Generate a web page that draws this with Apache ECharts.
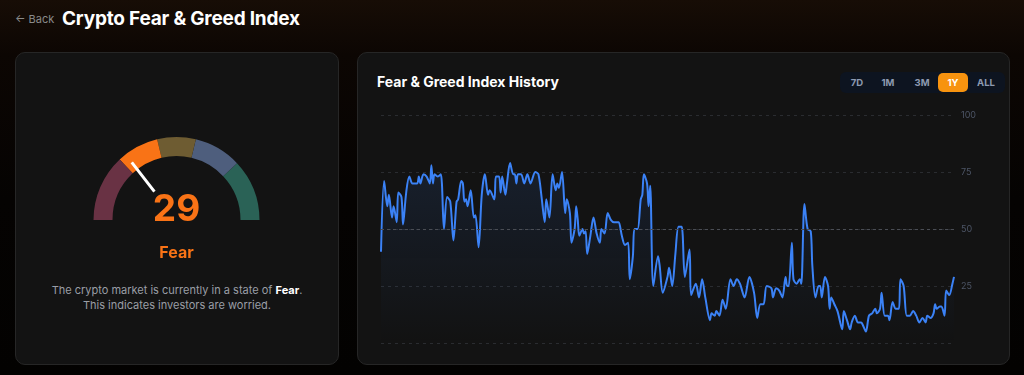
<!DOCTYPE html>
<html>
<head>
<meta charset="utf-8">
<script src="https://cdn.jsdelivr.net/npm/echarts@6/dist/echarts.min.js"></script>
<style>
  html,body{margin:0;padding:0;width:1024px;height:375px;overflow:hidden;}
  body{background:linear-gradient(180deg,#170d06 0px,#0c0603 55px,#050302 200px,#030201 375px);font-family:Inter,"Noto Sans",sans-serif;position:relative;}
  .back{position:absolute;left:15px;top:12px;font-size:11px;color:#8a8a8a;line-height:14px;}
  .h1{position:absolute;left:62px;top:7px;font-size:19px;font-weight:700;color:#fff;line-height:24px;letter-spacing:-0.2px;}
  .card{position:absolute;top:52px;height:313px;background:#131313;border:1px solid #262626;border-radius:10px;box-sizing:border-box;}
  .desc{position:absolute;left:15px;width:324px;top:283px;text-align:center;font-size:11px;line-height:15px;color:#9a9ea6;}
  .desc b{color:#fff;font-weight:700;}
  .ctitle{position:absolute;left:377px;top:73px;font-size:14px;font-weight:700;color:#fff;line-height:18px;}
  .btns{position:absolute;left:840px;top:72px;width:165px;height:21px;background:#0d1420;border-radius:6px;}
  .btn{position:absolute;top:0;height:21px;line-height:21px;font-size:9.5px;font-weight:700;color:#8e9ab0;text-align:center;}
  .btn.on{background:#f7930f;color:#fff;border-radius:5px;top:1px;height:19px;line-height:19px;}
  #chart{position:absolute;left:0;top:0;width:1024px;height:375px;}
</style>
</head>
<body>
<div class="back">← Back</div>
<div class="h1">Crypto Fear &amp; Greed Index</div>
<div class="card" style="left:15px;width:324px;"></div>
<div class="card" style="left:357px;width:653px;"></div>
<div class="desc">The crypto market is currently in a state of <b>Fear</b>.<br>This indicates investors are worried.</div>
<div class="ctitle">Fear &amp; Greed Index History</div>
<div class="btns">
  <div class="btn" style="left:7px;width:20px;">7D</div>
  <div class="btn" style="left:38px;width:20px;">1M</div>
  <div class="btn" style="left:71px;width:22px;">3M</div>
  <div class="btn on" style="left:98px;width:30px;">1Y</div>
  <div class="btn" style="left:134px;width:24px;">ALL</div>
</div>
<div id="chart"></div>
<script>
// Current index
const currentValue = 29;
const currentLabel = 'Fear';
// Gauge bands (upper bound as fraction of 100)
const bandStops = [0.26, 0.425, 0.575, 0.76, 1];
const bandColors = ['#693244', '#f97316', '#6e5c32', '#4e5e7d', '#2a6256'];
// History (1Y): day offset and index value
const days = [0,2,4,5,7,8,10,11,13,14,16,18,20,23,24,25,27,29,31,32,33,34,36,38,40,42,44,46,48,49,51,52,53,54,55,57,59,60,62,64,66,68,69,72,73,75,76,77,79,80,82,84,85,86,87,89,91,93,95,98,100,102,104,105,107,109,111,112,113,115,117,118,120,121,123,124,125,126,128,129,130,131,133,135,137,139,140,142,144,146,148,150,151,153,155,157,158,160,161,163,165,166,167,169,170,171,173,176,177,179,182,183,185,187,189,191,193,196,197,200,202,204,206,209,210,212,213,215,217,219,222,224,226,228,231,234,237,239,241,243,245,248,249,251,253,255,257,258,259,261,262,264,266,267,269,271,273,274,276,278,279,280,282,284,285,286,288,290,293,294,296,298,299,301,303,305,306,308,310,312,314,315,317,318,320,322,323,325,327,329,330,332,334,336,338,340,342,344,346,347,349,351,352,353,355,356,358,359,361,363,364];
const values = [40,71,60,65,55,60,53,66,64,52,66,73,70,70,73,70,74,73,70,78,70,74,73,74,50,64,62,45,62,63,71,70,62,63,60,67,55,56,42,65,74,65,67,63,73,73,66,73,65,70,79,74,74,70,74,74,70,74,70,75,74,64,53,63,55,74,67,70,68,75,57,63,57,44,50,60,54,47,50,48,49,39,47,55,48,44,50,48,57,54,53,53,53,47,43,44,28,38,50,50,63,65,74,70,60,69,25,38,34,22,29,33,25,39,51,51,29,41,21,26,20,28,20,10,13,12,14,12,19,15,28,25,28,26,20,29,22,11,17,17,25,24,20,24,23,20,29,25,25,44,28,26,28,26,61,50,49,34,20,25,25,20,29,25,15,20,17,14,6,14,10,6,9,12,9,9,8,5,12,13,15,13,15,22,12,12,10,18,15,15,28,25,12,12,14,12,9,11,9,12,11,13,17,15,16,16,12,23,21,26,29];
const yTicks = [0, 25, 50, 75, 100];

const chart = echarts.init(document.getElementById('chart'), null, {renderer:'canvas'});
const series = days.map((d, i) => [d, values[i]]);
chart.setOption({
  backgroundColor: 'transparent',
  animation: false,
  grid: {left: 381, top: 115, width: 573, height: 228},
  xAxis: {type: 'value', min: 0, max: 364, show: false},
  yAxis: {
    type: 'value', position: 'right', min: yTicks[0], max: yTicks[yTicks.length - 1], interval: 25,
    axisLine: {show: false}, axisTick: {show: false},
    axisLabel: {color: '#4d5566', fontSize: 9, margin: 7, fontFamily: 'Inter', padding: [3, 0, 0, 0],
      formatter: v => (v === 0 ? '' : String(v))},
    splitLine: {lineStyle: {color: '#2a2c30', type: [3, 4], width: 1}}
  },
  series: [
    {
      type: 'gauge',
      center: [176.5, 220], radius: 83,
      startAngle: 180, endAngle: 0, min: 0, max: 100,
      axisLine: {lineStyle: {width: 19, color: bandStops.map((s, i) => [s, bandColors[i]])}},
      axisTick: {show: false}, splitLine: {show: false}, axisLabel: {show: false},
      pointer: {icon: 'path://M0 0 L2 0 L2 37 L0 37 Z M0 73 L2 73 Z', length: 73, width: 3,
        itemStyle: {color: '#ffffff'}},
      anchor: {show: false},
      title: {offsetCenter: [0, 33], color: '#f97316', fontSize: 16, fontWeight: 'bold', fontFamily: 'Inter'},
      detail: {offsetCenter: [0, -10], color: '#f97316', fontSize: 37, fontWeight: 'bold', fontFamily: 'Inter',
        formatter: '{value}'},
      data: [{value: currentValue, name: currentLabel}]
    },
    {
      type: 'line',
      data: series,
      smooth: 0.3,
      showSymbol: false,
      lineStyle: {color: '#3b82f6', width: 2},
      areaStyle: {color: new echarts.graphic.LinearGradient(0, 0, 0, 1, [
        {offset: 0, color: 'rgba(59,130,246,0.16)'},
        {offset: 1, color: 'rgba(59,130,246,0.0)'}
      ])},
      markLine: {silent: true, symbol: 'none', label: {show: false},
        lineStyle: {color: '#4a4d54', type: [3, 3], width: 1},
        data: [{yAxis: 50}]}
    }
  ]
});
</script>
</body>
</html>
